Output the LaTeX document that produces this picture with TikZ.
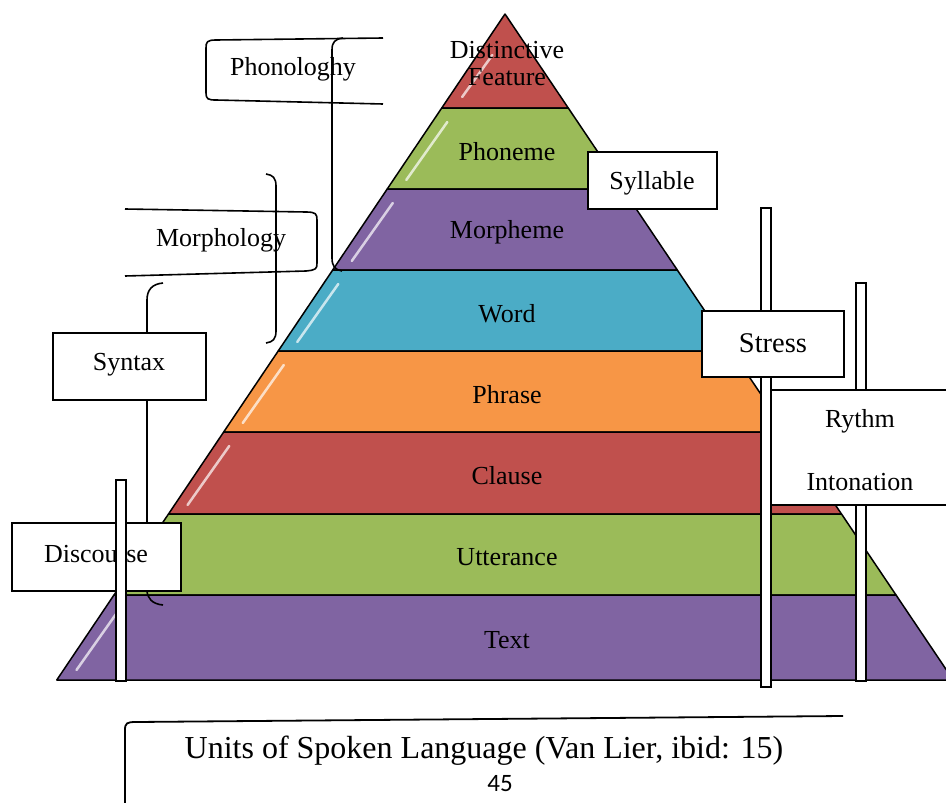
\documentclass[tikz,border=0pt]{standalone}
\usepackage{fontspec}
\setmainfont{Liberation Serif}
\newfontfamily\capfont{Carlito}
\definecolor{cred}{HTML}{C0504D}
\definecolor{cgreen}{HTML}{9BBB59}
\definecolor{cpurple}{HTML}{8064A2}
\definecolor{ccyan}{HTML}{4BACC6}
\definecolor{corange}{HTML}{F79646}
\begin{document}
\begin{tikzpicture}[x=1pt,y=-1pt,
  bandtxt/.style={font=\fontsize{26}{27}\selectfont, align=center, inner sep=0pt},
  lbl/.style={font=\fontsize{26}{27}\selectfont, inner sep=0pt},
  wbox/.style={draw=black, fill=white, line width=1.8pt, inner sep=0pt},
  post/.style={draw=black, fill=white, line width=1.5pt},
  brk/.style={draw=black, line width=1.6pt, line join=round}]
\clip (0,0) rectangle (946,803);
\fill[white] (0,0) rectangle (946,803);
% pyramid
\foreach \ya/\yb/\col/\nm/\lab/\ha/\hb in {
  14/108/cred/df/{Distinctive\\Feature}/55/97,
  108/189/cgreen/phoneme/Phoneme/122/180,
  189/270/cpurple/morpheme/Morpheme/203/261,
  270/351/ccyan/word/Word/284/342,
  351/432/corange/phrase/Phrase/365/423,
  432/514/cred/clause/Clause/446/505,
  514/595/cgreen/utterance/Utterance/528/586,
  595/680/cpurple/text/Text/609/670}{
  \pgfmathsetmacro\la{505-0.673*(\ya-14)}
  \pgfmathsetmacro\ra{505+0.673*(\ya-14)}
  \pgfmathsetmacro\lb{505-0.673*(\yb-14)}
  \pgfmathsetmacro\rb{505+0.673*(\yb-14)}
  \pgfmathsetmacro\ym{(\ya+\yb)/2+3}
  \pgfmathsetmacro\hxa{505-0.673*(\ha-14)+15}
  \pgfmathsetmacro\hxb{505-0.673*(\hb-14)+13}
  \filldraw[fill=\col, draw=black, line width=1.5pt, line join=round]
    (\la,\ya) -- (\ra,\ya) -- (\rb,\yb) -- (\lb,\yb) -- cycle;
  \draw[white, opacity=0.7, line width=2.5pt, line cap=round] (\hxa,\ha) -- (\hxb,\hb);
  \node[bandtxt] (\nm) at (507,\ym) {\lab};
}
% Phonology
\draw[brk] (383,38) -- (216,40) .. controls (207,40) and (206,42) .. (206,48)
  -- (206,93) .. controls (206,99) and (208,100) .. (216,100) -- (383,104);
\node[lbl] (phonology) at (293,69) {Phonologhy};
\draw[brk] (343,38) .. controls (335,39) and (332,42) .. (332,50)
  -- (332,258) .. controls (332,266) and (335,270) .. (342,271);
% Morphology
\draw[brk] (125,209) -- (306,212) .. controls (316,212) and (317,214) .. (317,220)
  -- (317,263) .. controls (317,269) and (316,270) .. (306,271) -- (125,276);
\node[lbl] (morphology) at (221,240) {Morphology};
\draw[brk] (266,174) .. controls (273,175) and (276,178) .. (276,186)
  -- (276,331) .. controls (276,339) and (273,342) .. (266,343);
% Syntax bracket
\draw[brk] (163,283) .. controls (152,284) and (147,290) .. (147,300)
  -- (147,590) .. controls (147,598) and (152,604) .. (163,605);
% Syntax box
\node[wbox, minimum width=153, minimum height=67] (syntax) at (129.5,366.5) {};
\node[lbl] (syntaxtxt) at (129,365) {Syntax};
% Discourse box + post
\node[wbox, minimum width=169, minimum height=68] (discourse) at (96.5,557) {};
\node[lbl] (discoursetxt) at (96,554) {Discourse};
\filldraw[post] (116,480) rectangle (126,681);
% Syllable
\node[wbox, minimum width=129, minimum height=57] (syllable) at (652.5,180.5) {};
\node[lbl] (syllabletxt) at (652,183) {Syllable};
% Rythm post and box
\filldraw[post] (856,283) rectangle (866,681);
\fill[white] (771,390) rectangle (960,505);
\draw[line width=1.8pt] (960,390) -- (771,390) -- (771,505) -- (960,505);
\node[lbl] (rythm) at (860,421) {Rythm};
\node[lbl] (intonation) at (860,482) {Intonation};
% Stress post and box
\filldraw[post] (761,208) rectangle (771,687);
\node[wbox, minimum width=142, minimum height=66] (stress) at (773,344) {};
\node[lbl, font=\fontsize{28.5}{30}\selectfont] (stresstxt) at (773,343) {Stress};
% Caption
\draw[line width=1.8pt] (843,716) -- (136,722) .. controls (127,722) and (125,723) .. (125,730) -- (125,810);
\node[lbl, font=\fontsize{32}{34}\selectfont] (caption) at (484,751) {Units of Spoken Language (Van Lier, ibid: 15)};
\node[lbl, font=\capfont\fontsize{25}{27}\selectfont] (page) at (500,784) {45};
\end{tikzpicture}
\end{document}
